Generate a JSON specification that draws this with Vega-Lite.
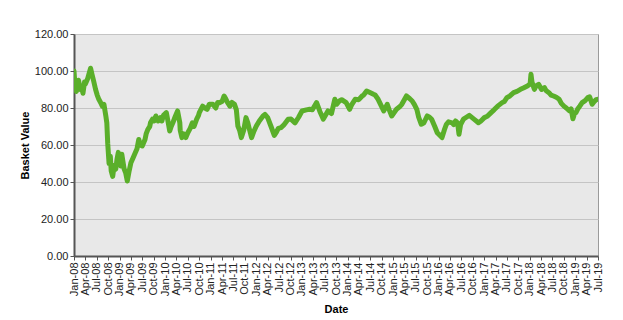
{
  "$schema": "https://vega.github.io/schema/vega-lite/v6.json",
  "width": 524,
  "height": 222,
  "autosize": {"type": "none"},
  "padding": {"left": 74, "top": 34, "right": 25, "bottom": 64},
  "background": "white",
  "config": {
    "font": "Liberation Sans",
    "view": {"fill": "#e8e8e8", "stroke": "#9a9a9a", "strokeWidth": 1}
  },
  "data": {
    "values": [
      {"date": "2008-01-01T00:00:00", "value": 100},
      {"date": "2008-01-10T00:00:00", "value": 91},
      {"date": "2008-01-20T00:00:00", "value": 89},
      {"date": "2008-02-06T00:00:00", "value": 95},
      {"date": "2008-02-20T00:00:00", "value": 90},
      {"date": "2008-02-28T00:00:00", "value": 92},
      {"date": "2008-03-13T00:00:00", "value": 88},
      {"date": "2008-03-25T00:00:00", "value": 94},
      {"date": "2008-04-01T00:00:00", "value": 93},
      {"date": "2008-04-20T00:00:00", "value": 96},
      {"date": "2008-05-13T00:00:00", "value": 101.5},
      {"date": "2008-05-25T00:00:00", "value": 98},
      {"date": "2008-06-05T00:00:00", "value": 95},
      {"date": "2008-06-22T00:00:00", "value": 90},
      {"date": "2008-07-05T00:00:00", "value": 87},
      {"date": "2008-07-18T00:00:00", "value": 84.7},
      {"date": "2008-08-01T00:00:00", "value": 83},
      {"date": "2008-08-15T00:00:00", "value": 81},
      {"date": "2008-08-28T00:00:00", "value": 82},
      {"date": "2008-09-12T00:00:00", "value": 75.7},
      {"date": "2008-09-20T00:00:00", "value": 72},
      {"date": "2008-09-27T00:00:00", "value": 61},
      {"date": "2008-10-08T00:00:00", "value": 50},
      {"date": "2008-10-18T00:00:00", "value": 54},
      {"date": "2008-10-25T00:00:00", "value": 46},
      {"date": "2008-11-06T00:00:00", "value": 43},
      {"date": "2008-11-12T00:00:00", "value": 46},
      {"date": "2008-11-20T00:00:00", "value": 49},
      {"date": "2008-12-01T00:00:00", "value": 47},
      {"date": "2008-12-10T00:00:00", "value": 52},
      {"date": "2008-12-21T00:00:00", "value": 56},
      {"date": "2009-01-10T00:00:00", "value": 48.6},
      {"date": "2009-01-18T00:00:00", "value": 55},
      {"date": "2009-01-25T00:00:00", "value": 52},
      {"date": "2009-02-06T00:00:00", "value": 47},
      {"date": "2009-02-18T00:00:00", "value": 45},
      {"date": "2009-03-03T00:00:00", "value": 40.5},
      {"date": "2009-03-18T00:00:00", "value": 46},
      {"date": "2009-04-01T00:00:00", "value": 50.4},
      {"date": "2009-04-18T00:00:00", "value": 53},
      {"date": "2009-05-06T00:00:00", "value": 55.8},
      {"date": "2009-05-20T00:00:00", "value": 58},
      {"date": "2009-06-03T00:00:00", "value": 63},
      {"date": "2009-06-15T00:00:00", "value": 60},
      {"date": "2009-07-01T00:00:00", "value": 59.5},
      {"date": "2009-07-23T00:00:00", "value": 63},
      {"date": "2009-08-01T00:00:00", "value": 66},
      {"date": "2009-08-15T00:00:00", "value": 68.5},
      {"date": "2009-08-30T00:00:00", "value": 70},
      {"date": "2009-09-05T00:00:00", "value": 72},
      {"date": "2009-09-21T00:00:00", "value": 74},
      {"date": "2009-10-05T00:00:00", "value": 73},
      {"date": "2009-10-18T00:00:00", "value": 75.7},
      {"date": "2009-11-05T00:00:00", "value": 73},
      {"date": "2009-11-24T00:00:00", "value": 74.8},
      {"date": "2009-12-05T00:00:00", "value": 73},
      {"date": "2009-12-18T00:00:00", "value": 76},
      {"date": "2010-01-10T00:00:00", "value": 77.5},
      {"date": "2010-01-20T00:00:00", "value": 74},
      {"date": "2010-02-06T00:00:00", "value": 67.6},
      {"date": "2010-02-18T00:00:00", "value": 70},
      {"date": "2010-03-03T00:00:00", "value": 72},
      {"date": "2010-03-20T00:00:00", "value": 75},
      {"date": "2010-04-10T00:00:00", "value": 78.4},
      {"date": "2010-04-28T00:00:00", "value": 72},
      {"date": "2010-05-01T00:00:00", "value": 68},
      {"date": "2010-05-15T00:00:00", "value": 64},
      {"date": "2010-05-30T00:00:00", "value": 66},
      {"date": "2010-06-15T00:00:00", "value": 64},
      {"date": "2010-07-01T00:00:00", "value": 66.6},
      {"date": "2010-07-20T00:00:00", "value": 69},
      {"date": "2010-08-06T00:00:00", "value": 72},
      {"date": "2010-08-20T00:00:00", "value": 70},
      {"date": "2010-09-10T00:00:00", "value": 74},
      {"date": "2010-09-25T00:00:00", "value": 76},
      {"date": "2010-10-01T00:00:00", "value": 77.5},
      {"date": "2010-10-28T00:00:00", "value": 81},
      {"date": "2010-11-15T00:00:00", "value": 80},
      {"date": "2010-12-03T00:00:00", "value": 79.3},
      {"date": "2010-12-20T00:00:00", "value": 82},
      {"date": "2011-01-18T00:00:00", "value": 82},
      {"date": "2011-02-10T00:00:00", "value": 80},
      {"date": "2011-02-25T00:00:00", "value": 83},
      {"date": "2011-03-12T00:00:00", "value": 82.9},
      {"date": "2011-04-01T00:00:00", "value": 83.5},
      {"date": "2011-04-18T00:00:00", "value": 86.5},
      {"date": "2011-05-01T00:00:00", "value": 85},
      {"date": "2011-05-15T00:00:00", "value": 83},
      {"date": "2011-06-03T00:00:00", "value": 81},
      {"date": "2011-06-20T00:00:00", "value": 83},
      {"date": "2011-07-10T00:00:00", "value": 82},
      {"date": "2011-07-25T00:00:00", "value": 79},
      {"date": "2011-08-06T00:00:00", "value": 70.3},
      {"date": "2011-08-20T00:00:00", "value": 68},
      {"date": "2011-09-03T00:00:00", "value": 64},
      {"date": "2011-09-22T00:00:00", "value": 68},
      {"date": "2011-10-10T00:00:00", "value": 74.8},
      {"date": "2011-10-25T00:00:00", "value": 72},
      {"date": "2011-11-01T00:00:00", "value": 70},
      {"date": "2011-11-24T00:00:00", "value": 64},
      {"date": "2011-12-10T00:00:00", "value": 67},
      {"date": "2012-01-01T00:00:00", "value": 70.3},
      {"date": "2012-01-25T00:00:00", "value": 73},
      {"date": "2012-02-24T00:00:00", "value": 75.7},
      {"date": "2012-03-10T00:00:00", "value": 76.5},
      {"date": "2012-04-01T00:00:00", "value": 74.8},
      {"date": "2012-04-28T00:00:00", "value": 70},
      {"date": "2012-05-24T00:00:00", "value": 65.2},
      {"date": "2012-06-10T00:00:00", "value": 67},
      {"date": "2012-06-25T00:00:00", "value": 69},
      {"date": "2012-07-18T00:00:00", "value": 69.4},
      {"date": "2012-08-10T00:00:00", "value": 71},
      {"date": "2012-09-12T00:00:00", "value": 73.9},
      {"date": "2012-10-05T00:00:00", "value": 74},
      {"date": "2012-11-06T00:00:00", "value": 72},
      {"date": "2012-12-05T00:00:00", "value": 75},
      {"date": "2013-01-01T00:00:00", "value": 78.4},
      {"date": "2013-02-05T00:00:00", "value": 79},
      {"date": "2013-03-03T00:00:00", "value": 79.3},
      {"date": "2013-03-25T00:00:00", "value": 79},
      {"date": "2013-04-28T00:00:00", "value": 82.9},
      {"date": "2013-05-25T00:00:00", "value": 78},
      {"date": "2013-06-21T00:00:00", "value": 74},
      {"date": "2013-07-28T00:00:00", "value": 78.4},
      {"date": "2013-08-25T00:00:00", "value": 77},
      {"date": "2013-09-21T00:00:00", "value": 84.7},
      {"date": "2013-10-05T00:00:00", "value": 82},
      {"date": "2013-10-28T00:00:00", "value": 83.8},
      {"date": "2013-11-15T00:00:00", "value": 84.5},
      {"date": "2013-12-21T00:00:00", "value": 82.9},
      {"date": "2014-01-18T00:00:00", "value": 79.3},
      {"date": "2014-02-05T00:00:00", "value": 82},
      {"date": "2014-03-03T00:00:00", "value": 84.7},
      {"date": "2014-04-01T00:00:00", "value": 84.5},
      {"date": "2014-04-28T00:00:00", "value": 86.5},
      {"date": "2014-05-10T00:00:00", "value": 87},
      {"date": "2014-06-03T00:00:00", "value": 89.2},
      {"date": "2014-06-25T00:00:00", "value": 88.5},
      {"date": "2014-07-28T00:00:00", "value": 87.4},
      {"date": "2014-08-10T00:00:00", "value": 87},
      {"date": "2014-09-03T00:00:00", "value": 84.7},
      {"date": "2014-10-18T00:00:00", "value": 78.4},
      {"date": "2014-11-15T00:00:00", "value": 82},
      {"date": "2014-12-01T00:00:00", "value": 79},
      {"date": "2014-12-21T00:00:00", "value": 75.7},
      {"date": "2015-01-28T00:00:00", "value": 79.3},
      {"date": "2015-02-20T00:00:00", "value": 80.5},
      {"date": "2015-03-12T00:00:00", "value": 82},
      {"date": "2015-04-18T00:00:00", "value": 86.5},
      {"date": "2015-05-15T00:00:00", "value": 85},
      {"date": "2015-06-03T00:00:00", "value": 83.8},
      {"date": "2015-06-20T00:00:00", "value": 82},
      {"date": "2015-07-10T00:00:00", "value": 79.3},
      {"date": "2015-07-25T00:00:00", "value": 75},
      {"date": "2015-08-15T00:00:00", "value": 71.2},
      {"date": "2015-09-05T00:00:00", "value": 72},
      {"date": "2015-10-01T00:00:00", "value": 75.7},
      {"date": "2015-10-20T00:00:00", "value": 75},
      {"date": "2015-11-06T00:00:00", "value": 73.9},
      {"date": "2015-12-01T00:00:00", "value": 70},
      {"date": "2015-12-21T00:00:00", "value": 66.6},
      {"date": "2016-01-28T00:00:00", "value": 64},
      {"date": "2016-02-15T00:00:00", "value": 68},
      {"date": "2016-03-03T00:00:00", "value": 71.2},
      {"date": "2016-03-20T00:00:00", "value": 72.5},
      {"date": "2016-04-18T00:00:00", "value": 72},
      {"date": "2016-05-01T00:00:00", "value": 71},
      {"date": "2016-05-15T00:00:00", "value": 73},
      {"date": "2016-06-01T00:00:00", "value": 72},
      {"date": "2016-06-12T00:00:00", "value": 65.8},
      {"date": "2016-06-25T00:00:00", "value": 71},
      {"date": "2016-07-18T00:00:00", "value": 74},
      {"date": "2016-08-10T00:00:00", "value": 75},
      {"date": "2016-09-03T00:00:00", "value": 76},
      {"date": "2016-10-10T00:00:00", "value": 74},
      {"date": "2016-11-15T00:00:00", "value": 72},
      {"date": "2016-12-05T00:00:00", "value": 73},
      {"date": "2017-01-01T00:00:00", "value": 74.8},
      {"date": "2017-01-25T00:00:00", "value": 75.5},
      {"date": "2017-02-24T00:00:00", "value": 77.5},
      {"date": "2017-03-20T00:00:00", "value": 79},
      {"date": "2017-04-18T00:00:00", "value": 81},
      {"date": "2017-05-24T00:00:00", "value": 82.9},
      {"date": "2017-06-10T00:00:00", "value": 83.5},
      {"date": "2017-07-01T00:00:00", "value": 85.6},
      {"date": "2017-07-25T00:00:00", "value": 86.5},
      {"date": "2017-08-24T00:00:00", "value": 88.3},
      {"date": "2017-09-20T00:00:00", "value": 89},
      {"date": "2017-10-18T00:00:00", "value": 90.1},
      {"date": "2017-11-10T00:00:00", "value": 90.8},
      {"date": "2017-12-12T00:00:00", "value": 91.9},
      {"date": "2018-01-03T00:00:00", "value": 93},
      {"date": "2018-01-10T00:00:00", "value": 98.2},
      {"date": "2018-01-18T00:00:00", "value": 94},
      {"date": "2018-02-06T00:00:00", "value": 90.1},
      {"date": "2018-02-20T00:00:00", "value": 92},
      {"date": "2018-03-12T00:00:00", "value": 92.8},
      {"date": "2018-04-05T00:00:00", "value": 90},
      {"date": "2018-04-28T00:00:00", "value": 91},
      {"date": "2018-05-10T00:00:00", "value": 89.5},
      {"date": "2018-06-03T00:00:00", "value": 88.3},
      {"date": "2018-06-20T00:00:00", "value": 87},
      {"date": "2018-07-10T00:00:00", "value": 86.5},
      {"date": "2018-08-01T00:00:00", "value": 85.8},
      {"date": "2018-08-24T00:00:00", "value": 84.7},
      {"date": "2018-09-10T00:00:00", "value": 82.5},
      {"date": "2018-10-01T00:00:00", "value": 81},
      {"date": "2018-10-20T00:00:00", "value": 80},
      {"date": "2018-11-15T00:00:00", "value": 78.4},
      {"date": "2018-11-28T00:00:00", "value": 79.5},
      {"date": "2018-12-12T00:00:00", "value": 74.2},
      {"date": "2018-12-25T00:00:00", "value": 77},
      {"date": "2019-01-05T00:00:00", "value": 77.5},
      {"date": "2019-01-18T00:00:00", "value": 79.3},
      {"date": "2019-02-05T00:00:00", "value": 81},
      {"date": "2019-02-24T00:00:00", "value": 82.9},
      {"date": "2019-03-20T00:00:00", "value": 84},
      {"date": "2019-04-10T00:00:00", "value": 85.6},
      {"date": "2019-04-25T00:00:00", "value": 86},
      {"date": "2019-05-15T00:00:00", "value": 82},
      {"date": "2019-06-01T00:00:00", "value": 83.5},
      {"date": "2019-06-15T00:00:00", "value": 84.5},
      {"date": "2019-07-01T00:00:00", "value": 84.7}
    ]
  },
  "mark": {"type": "line", "color": "#5aaf2a", "strokeWidth": 5, "strokeJoin": "round", "strokeCap": "round", "clip": true},
  "encoding": {
    "x": {
      "field": "date",
      "type": "temporal",
      "scale": {"domain": [{"year": 2008, "month": 1, "date": 1}, {"year": 2019, "month": 7, "date": 1}], "nice": false},
      "axis": {
        "title": "Date",
        "titleFont": "Liberation Sans",
        "titleFontSize": 11,
        "titleFontWeight": "bold",
        "titleColor": "#000",
        "titlePadding": 8,
        "format": "%b-%y",
        "tickCount": {"interval": "month", "step": 3},
        "labelAngle": -90,
        "labelFontSize": 11,
        "labelColor": "#222",
        "labelOverlap": false,
        "labelBound": false,
        "labelFlush": false,
        "labelPadding": 2,
        "grid": false,
        "domainColor": "#555",
        "domainWidth": 2,
        "tickColor": "#555",
        "tickSize": 4
      }
    },
    "y": {
      "field": "value",
      "type": "quantitative",
      "scale": {"domain": [0, 120], "nice": false},
      "axis": {
        "title": "Basket Value",
        "titleFont": "Liberation Sans",
        "titleFontSize": 11,
        "titleFontWeight": "bold",
        "titleColor": "#000",
        "titlePadding": 4,
        "values": [0, 20, 40, 60, 80, 100, 120],
        "format": ".2f",
        "labelFontSize": 11,
        "labelColor": "#222",
        "labelPadding": 2,
        "gridColor": "#c4c4c4",
        "gridWidth": 1,
        "domainColor": "#555",
        "domainWidth": 2,
        "tickColor": "#555",
        "tickSize": 4
      }
    }
  }
}
